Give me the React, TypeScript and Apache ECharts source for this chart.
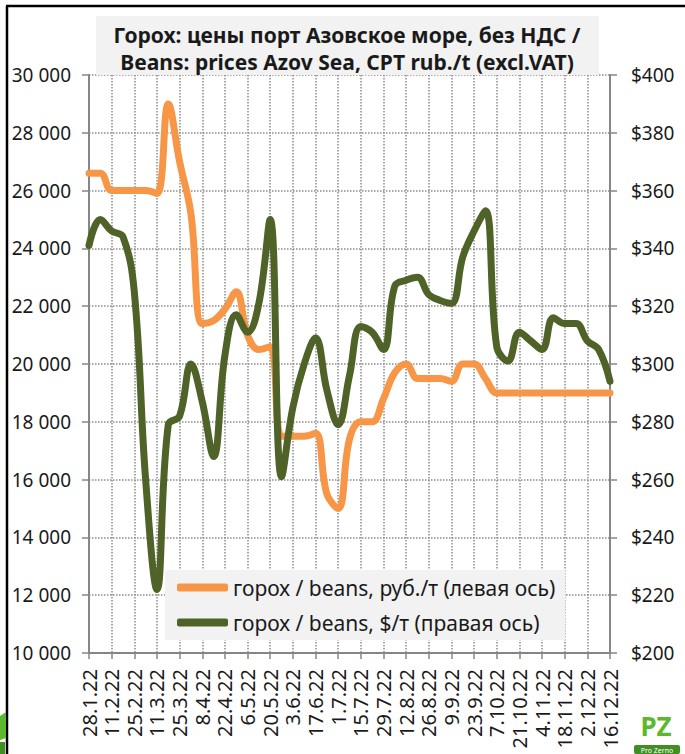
import React, { useEffect, useRef } from "react";
import * as echarts from "echarts";

const dates = [
  "28.1.22", "4.2.22", "11.2.22", "18.2.22", "25.2.22", "4.3.22", "11.3.22", "18.3.22", "25.3.22",
  "1.4.22", "8.4.22", "15.4.22", "22.4.22", "29.4.22", "6.5.22", "13.5.22", "20.5.22", "27.5.22",
  "3.6.22", "10.6.22", "17.6.22", "24.6.22", "1.7.22", "8.7.22", "15.7.22", "22.7.22", "29.7.22",
  "5.8.22", "12.8.22", "19.8.22", "26.8.22", "2.9.22", "9.9.22", "16.9.22", "23.9.22", "30.9.22",
  "7.10.22", "14.10.22", "21.10.22", "28.10.22", "4.11.22", "11.11.22", "18.11.22", "25.11.22",
  "2.12.22", "9.12.22", "16.12.22",
];

const rubValues = [
  26600, 26600, 26000, 26000, 26000, 26000, 25900, 29000, 27000, 25200, 21400, 21500, 21900, 22500,
  21000, 20500, 20600, 17500, 17500, 17500, 17600, 15500, 15000, 17400, 18000, 18000, 18800, 19700,
  20000, 19500, 19500, 19500, 19400, 20000, 20000, 19500, 19000, 19000, 19000, 19000, 19000, 19000,
  19000, 19000, 19000, 19000, 19000,
];

const usdValues = [
  341, 350, 346, 344, 325, 260, 222, 279, 282, 300, 287, 268, 303, 317, 311, 321, 350, 261, 285, 300,
  309, 291, 279, 296, 313, 311, 305, 327, 329, 330, 324, 322, 321, 337, 346, 353, 306, 301, 311, 308,
  305, 316, 314, 314, 308, 305, 294,
];

const titleLines = [
  "Горох: цены порт Азовское море, без НДС /",
  "Beans: prices Azov Sea, CPT rub./t (excl.VAT)",
];
const seriesNames = [
  "горох / beans, руб./т (левая ось)",
  "горох / beans, $/т (правая ось)",
];

const FONT = "Noto Sans";

export default function App() {
  const ref = useRef<HTMLDivElement>(null);
  useEffect(() => {
    document.body.style.margin = "0";
    const chart = echarts.init(ref.current!, null, { renderer: "svg" });
    chart.setOption({
      animation: false,
      textStyle: { fontFamily: FONT },
      grid: { left: 89, right: 75, top: 75, bottom: 101 },
      graphic: [
        { type: "line", shape: { x1: 7, y1: 6, x2: 7, y2: 754 }, style: { stroke: "#000", lineWidth: 2.5 } },
        { type: "line", shape: { x1: 6, y1: 6, x2: 685, y2: 6 }, style: { stroke: "#000", lineWidth: 2.5 } },
        { type: "rect", shape: { x: 96, y: 16, width: 503, height: 59 }, style: { fill: "#f2f2f2" }, z: 10 },
        {
          type: "text", x: 347, y: 35, z: 11,
          style: { text: titleLines[0], font: `bold 21px "${FONT}"`, fill: "#1a1a1a", align: "center", verticalAlign: "middle" },
        },
        {
          type: "text", x: 347, y: 62, z: 11,
          style: { text: titleLines[1], font: `bold 21px "${FONT}"`, fill: "#1a1a1a", align: "center", verticalAlign: "middle" },
        },
        // logo bottom right
        {
          type: "text", x: 656, y: 726, z: 11,
          style: { text: "PZ", font: `bold 26px "${FONT}"`, fill: "#5cb82e", align: "center", verticalAlign: "middle" },
        },
        { type: "rect", shape: { x: 634, y: 745, width: 46, height: 9, r: 2 }, style: { fill: "#3f8f22" }, z: 12 },
        {
          type: "text", x: 657, y: 750, z: 13,
          style: { text: "Pro Zerno", font: `7px "${FONT}"`, fill: "#fff", align: "center", verticalAlign: "middle" },
        },
        // partial logo bottom left
        { type: "polygon", shape: { points: [[0, 716], [6, 712], [6, 738], [0, 740]] }, style: { fill: "#5cb82e" } },
        { type: "rect", shape: { x: 0, y: 742, width: 5, height: 12 }, style: { fill: "#3f8f22" } },
      ],
      legend: {
        orient: "vertical",
        left: 165,
        top: 570,
        backgroundColor: "#f2f2f2",
        padding: [7, 10, 7, 12],
        itemGap: 14,
        itemWidth: 51,
        itemHeight: 8,
        icon: "roundRect",
        textStyle: { fontSize: 21, color: "#1a1a1a", fontFamily: FONT },
        data: seriesNames,
      },
      xAxis: {
        type: "category",
        data: dates,
        boundaryGap: false,
        axisLine: { lineStyle: { color: "#868686", width: 2 } },
        axisTick: { show: true, interval: 1, length: 6, lineStyle: { color: "#868686", width: 1.5 } },
        axisLabel: { interval: 1, rotate: 90, fontSize: 20, color: "#1a1a1a", margin: 16, fontFamily: FONT },
        splitLine: { show: true, interval: 1, lineStyle: { color: "#8c8c8c", type: "dotted", width: 1.5 } },
      },
      yAxis: [
        {
          type: "value",
          min: 10000,
          max: 30000,
          interval: 2000,
          axisLine: { show: true, lineStyle: { color: "#868686", width: 2 } },
          axisTick: { show: true, length: 7, lineStyle: { color: "#868686", width: 1.5 } },
          axisLabel: {
            fontSize: 19, color: "#1a1a1a", margin: 18, fontFamily: FONT,
            formatter: (v: number) => String(v).replace(/\B(?=(\d{3})+(?!\d))/g, " "),
          },
          splitLine: { show: true, lineStyle: { color: "#8c8c8c", type: "dotted", width: 1.5 } },
        },
        {
          type: "value",
          min: 200,
          max: 400,
          interval: 20,
          position: "right",
          axisLine: { show: true, lineStyle: { color: "#868686", width: 2 } },
          axisTick: { show: true, length: 7, lineStyle: { color: "#868686", width: 1.5 } },
          axisLabel: { fontSize: 19, color: "#1a1a1a", margin: 21, fontFamily: FONT, formatter: (v: number) => "$" + v },
          splitLine: { show: false },
        },
      ],
      series: [
        {
          name: seriesNames[0],
          type: "line",
          yAxisIndex: 0,
          data: rubValues,
          smooth: 0.4,
          showSymbol: false,
          symbol: "none",
          color: "#F79646",
          lineStyle: { color: "#F79646", width: 7, cap: "round", join: "round" },
          z: 3,
        },
        {
          name: seriesNames[1],
          type: "line",
          yAxisIndex: 1,
          data: usdValues,
          smooth: 0.4,
          showSymbol: false,
          symbol: "none",
          color: "#4F6228",
          lineStyle: { color: "#4F6228", width: 7, cap: "round", join: "round" },
          z: 4,
        },
      ],
    });
    return () => chart.dispose();
  }, []);
  return <div ref={ref} style={{ width: 685, height: 754 }} />;
}
